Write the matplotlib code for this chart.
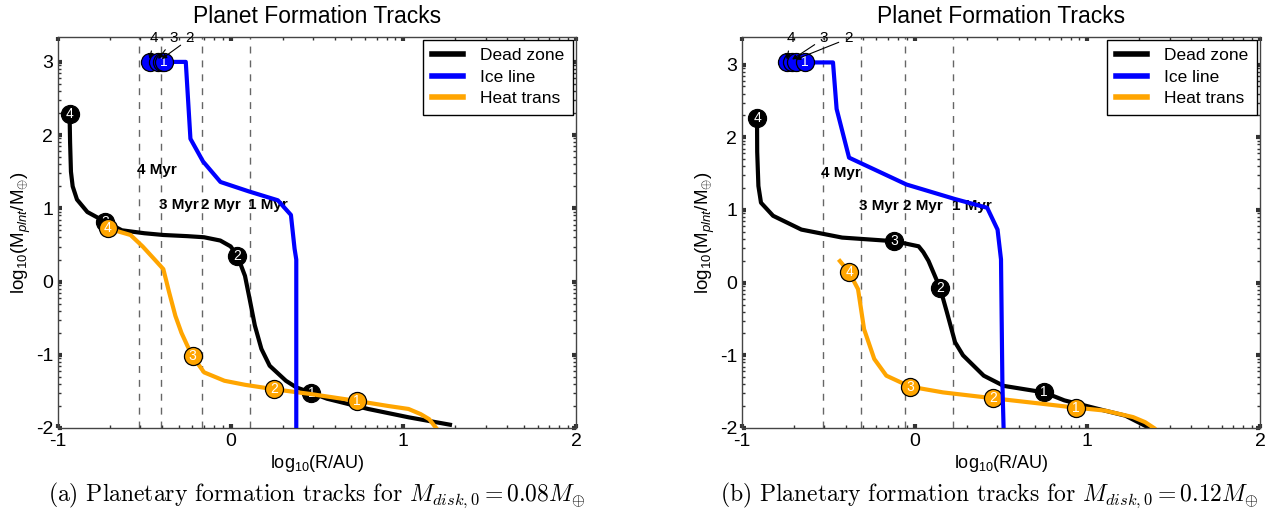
import numpy as np
import matplotlib
matplotlib.use('Agg')
import matplotlib.pyplot as plt

plt.rcParams['font.family'] = ['Liberation Sans', 'DejaVu Sans']
plt.rcParams['axes.unicode_minus'] = False
plt.rcParams['mathtext.fontset'] = 'custom'
plt.rcParams['mathtext.rm'] = 'Liberation Sans'
plt.rcParams['mathtext.it'] = 'Liberation Sans:italic'

# ---- panel (a): M_disk,0 = 0.08 ----
a_dead_x = [-0.933, -0.93, -0.925, -0.915, -0.89, -0.83, -0.729, -0.63, -0.5, -0.39, -0.25,
            -0.154, -0.06, 0.0, 0.036, 0.06, 0.083, 0.11, 0.14, 0.178, 0.226, 0.32, 0.38,
            0.468, 0.558, 0.796, 1.033, 1.27]
a_dead_y = [2.29, 1.9, 1.5, 1.3, 1.12, 0.95, 0.82, 0.70, 0.66, 0.636, 0.62,
            0.605, 0.56, 0.48, 0.36, 0.22, 0.077, -0.24, -0.6, -0.92, -1.15, -1.355, -1.445,
            -1.52, -1.6, -1.74, -1.855, -1.955]
a_ice_x = [-0.47, -0.26, -0.233, -0.16, -0.059, 0.107, 0.273, 0.349, 0.37, 0.38, 0.38]
a_ice_y = [3.0, 3.0, 1.95, 1.64, 1.36, 1.23, 1.11, 0.91, 0.45, 0.3, -2.0]
a_heat_x = [-0.713, -0.58, -0.51, -0.44, -0.39, -0.356, -0.32, -0.285, -0.25, -0.221, -0.154,
            -0.036, 0.083, 0.25, 0.463, 0.73, 0.914, 1.03, 1.1, 1.15, 1.19]
a_heat_y = [0.727, 0.636, 0.48, 0.30, 0.17, -0.15, -0.47, -0.7, -0.88, -1.02, -1.24,
            -1.355, -1.41, -1.47, -1.536, -1.63, -1.7, -1.74, -1.81, -1.88, -2.0]
# markers for times 1..4 Myr
a_dead_mx = [0.468, 0.036, -0.729, -0.933]
a_dead_my = [-1.52, 0.35, 0.82, 2.29]
a_heat_mx = [0.73, 0.25, -0.221, -0.713]
a_heat_my = [-1.63, -1.47, -1.02, 0.727]
a_ice_mx = [-0.385, -0.40, -0.42, -0.47]
a_ice_my = [3.0, 3.0, 3.0, 3.0]
a_label_x = [-0.236, -0.328, -0.442]   # labels "2","3","4"
a_label_y = 3.32
a_myr_x = [0.11, -0.164, -0.406, -0.53]
a_myr_y = [1.05, 1.05, 1.05, 1.52]

# ---- panel (b): M_disk,0 = 0.12 ----
b_dead_x = [-0.913, -0.912, -0.905, -0.89, -0.82, -0.656, -0.42, -0.117, 0.023, 0.05, 0.08,
            0.148, 0.187, 0.234, 0.28, 0.4, 0.515, 0.632, 0.75, 0.867, 0.984, 1.1, 1.22, 1.36]
b_dead_y = [2.27, 1.8, 1.33, 1.10, 0.92, 0.73, 0.62, 0.57, 0.5, 0.42, 0.3,
            -0.08, -0.41, -0.82, -1.0, -1.28, -1.42, -1.465, -1.51, -1.62, -1.69, -1.76, -1.83, -2.0]
b_ice_x = [-0.74, -0.473, -0.452, -0.38, -0.047, 0.234, 0.42, 0.48, 0.50, 0.508, 0.515]
b_ice_y = [3.03, 3.03, 2.39, 1.72, 1.35, 1.15, 1.03, 0.73, 0.32, -1.37, -2.0]
b_heat_x = [-0.433, -0.38, -0.328, -0.293, -0.234, -0.164, -0.028, 0.164, 0.452, 0.75, 0.932,
            1.1, 1.265, 1.335, 1.386]
b_heat_y = [0.297, 0.146, -0.09, -0.64, -1.05, -1.28, -1.43, -1.51, -1.59, -1.67, -1.72,
            -1.76, -1.85, -1.92, -2.0]
b_dead_mx = [0.75, 0.148, -0.117, -0.913]
b_dead_my = [-1.51, -0.08, 0.57, 2.27]
b_heat_mx = [0.932, 0.452, -0.028, -0.38]
b_heat_my = [-1.72, -1.59, -1.43, 0.146]
b_ice_mx = [-0.635, -0.69, -0.71, -0.74]
b_ice_my = [3.03, 3.03, 3.03, 3.03]
b_label_x = [-0.384, -0.525, -0.718]
b_label_y = 3.36
b_myr_x = [0.224, -0.055, -0.31, -0.532]
b_myr_y = [1.05, 1.05, 1.05, 1.515]

myr_labels = ['1 Myr', '2 Myr', '3 Myr', '4 Myr']
marker_nums = ['1', '2', '3', '4']

fig = plt.figure(figsize=(12.72, 5.19), dpi=100)


def markers(ax, mx, my, color, z, n_text=4):
    # draw 4 -> 1 so that "1" ends up on top
    for i in range(3, -1, -1):
        ax.plot(mx[i], my[i], 'o', ms=13, mfc=color, mec='k', mew=0.9, zorder=z + 0.1 * (4 - i))
        if i < n_text:
            ax.text(mx[i], my[i], marker_nums[i], color='white', fontsize=10, ha='center',
                    va='center', zorder=z + 0.1 * (4 - i) + 0.05)


def panel(ax, dx, dy, ix, iy, hx, hy, dmx, dmy, hmx, hmy, imx, imy, lx, ly, myx, myy, ytop):
    for xv, yv, s in zip(myx, myy, myr_labels):
        ax.axvline(xv, color='#666666', lw=1, ls=(0, (5, 5)), zorder=0.5)
        ax.text(xv - 0.01, yv, s, fontsize=11, fontweight='bold', ha='left', va='center', zorder=0.6)

    ax.plot(dx, dy, color='k', lw=3, label='Dead zone', zorder=2)
    markers(ax, dmx, dmy, 'k', 2.1)
    ax.plot(hx, hy, color='#FFA500', lw=3, label='Heat trans', zorder=3)
    markers(ax, hmx, hmy, '#FFA500', 3.1)
    ax.plot(ix, iy, color='#0000FF', lw=3, label='Ice line', zorder=4)
    # the ice-line markers pile up, only "1" is readable
    markers(ax, imx, imy, '#0000FF', 4.1, n_text=1)

    for i in range(3):
        ax.annotate(marker_nums[i + 1], xy=(imx[i + 1], imy[i + 1] + 0.04), xytext=(lx[i], ly),
                    fontsize=11, ha='center', va='center', zorder=6,
                    arrowprops=dict(arrowstyle='-|>', color='k', lw=0.8, mutation_scale=7,
                                    shrinkA=2, shrinkB=0))

    ax.set_xlim(-1, 2)
    ax.set_ylim(-2, ytop)
    ax.set_xticks([-1, 0, 1, 2])
    ax.set_yticks([-2, -1, 0, 1, 2, 3])
    k = np.log10(np.arange(2, 10))
    ax.set_xticks(np.concatenate([k - 1, k, k + 1]), minor=True)
    yminor = np.concatenate([k + d for d in range(-2, 3)])
    ax.set_yticks(yminor[yminor < ytop], minor=True)
    ax.tick_params(which='both', direction='in', top=True, right=True, labelsize=14,
                   colors='#333333', labelcolor='k')
    ax.tick_params(which='major', length=3, width=3)
    ax.tick_params(which='minor', length=2, width=1)
    for sp in ax.spines.values():
        sp.set_color('#444444')
        sp.set_linewidth(1)

    ax.set_title('Planet Formation Tracks', fontsize=16.5, pad=10)
    ax.set_xlabel('log$_{10}$(R/AU)', fontsize=13, labelpad=2)
    ax.set_ylabel('log$_{10}$(M$_{plnt}$/M$_{\\oplus}$)', fontsize=13.5, labelpad=2)

    h, l = ax.get_legend_handles_labels()
    order = [l.index('Dead zone'), l.index('Ice line'), l.index('Heat trans')]
    leg = ax.legend([h[i] for i in order], [l[i] for i in order], loc='upper right',
                    fontsize=12.5, fancybox=False, edgecolor='k', framealpha=1,
                    borderaxespad=0.15, handlelength=1.8, handletextpad=1.0,
                    labelspacing=0.35, borderpad=0.5)
    leg.get_frame().set_linewidth(1)
    for ln in leg.get_lines():
        ln.set_linewidth(4)
    leg.set_zorder(10)


ax1 = fig.add_axes([58 / 1272, 1 - 428 / 519, 518 / 1272, (428 - 37) / 519])
ax2 = fig.add_axes([742 / 1272, 1 - 428 / 519, 518 / 1272, (428 - 37) / 519])

panel(ax1, a_dead_x, a_dead_y, a_ice_x, a_ice_y, a_heat_x, a_heat_y, a_dead_mx, a_dead_my,
      a_heat_mx, a_heat_my, a_ice_mx, a_ice_my, a_label_x, a_label_y, a_myr_x, a_myr_y, 3.34)
panel(ax2, b_dead_x, b_dead_y, b_ice_x, b_ice_y, b_heat_x, b_heat_y, b_dead_mx, b_dead_my,
      b_heat_mx, b_heat_my, b_ice_mx, b_ice_my, b_label_x, b_label_y, b_myr_x, b_myr_y, 3.38)

fig.text(0.249, 0.046, '(a) Planetary formation tracks for $M_{disk,0} = 0.08M_{\\oplus}$',
         fontsize=17, family='cmr10', math_fontfamily='cm', ha='center', va='center')
fig.text(0.778, 0.046, '(b) Planetary formation tracks for $M_{disk,0} = 0.12M_{\\oplus}$',
         fontsize=17, family='cmr10', math_fontfamily='cm', ha='center', va='center')

fig.savefig('out.png', dpi=100)
